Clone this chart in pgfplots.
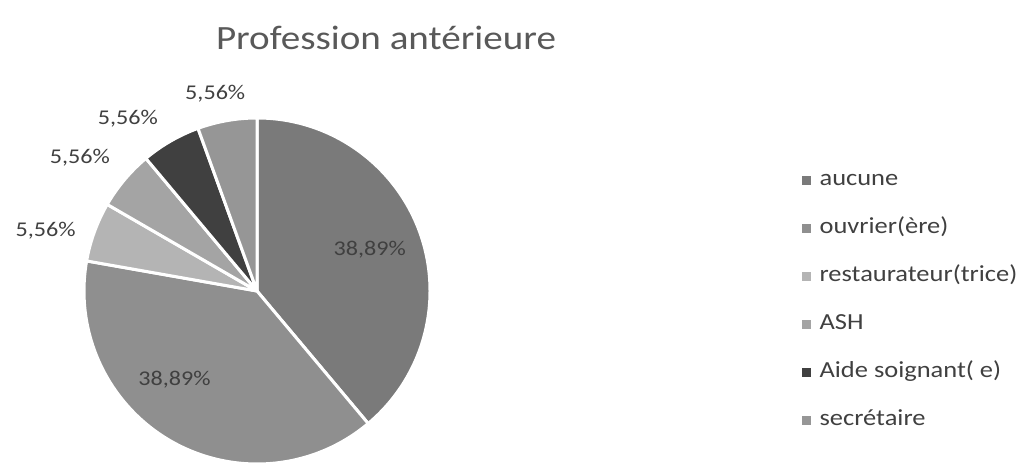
\documentclass[border=0pt]{standalone}
\usepackage{pgfplots}
\usepackage{pgfplotstable}
\pgfplotsset{compat=1.18}
\usepackage{fontspec}
\setmainfont{Carlito}[FakeStretch=1.15]
\definecolor{cA}{HTML}{7A7A7A}
\definecolor{cB}{HTML}{8F8F8F}
\definecolor{cC}{HTML}{B4B4B4}
\definecolor{cD}{HTML}{A4A4A4}
\definecolor{cE}{HTML}{404040}
\definecolor{cF}{HTML}{969696}
\definecolor{txt}{HTML}{404040}
\definecolor{ttl}{HTML}{595959}
\pgfplotstableread{
name value col ldist lshift
aucune 38.89 cA 120 0
ouvrier 38.89 cB 121 -13
restaurateur 5.56 cC 220 4
ASH 5.56 cD 222 3
aide 5.56 cE 215 7
secretaire 5.56 cF 202 2
}\piedata
\begin{document}
\begin{tikzpicture}
\begin{axis}[
  scale only axis, width=1030pt, height=473pt,
  xmin=0, xmax=1030, ymin=0, ymax=473,
  hide axis, clip=false,
  /pgf/number format/assume math mode=true,
  legend style={draw=none, fill=none, at={(axis cs:799,173)}, anchor=west,
    font=\fontsize{23}{27}\selectfont\color{txt},
    nodes={inner sep=0pt, text height=16pt, text depth=5pt},
    row sep=27pt, cells={anchor=west},
    /tikz/every odd column/.append style={column sep=9pt}},
]
\def\cum{90}
\pgfplotsforeachungrouped \i in {0,...,5}{%
  \pgfplotstablegetelem{\i}{value}\of\piedata \let\v\pgfplotsretval
  \pgfplotstablegetelem{\i}{col}\of\piedata \let\c\pgfplotsretval
  \pgfplotstablegetelem{\i}{ldist}\of\piedata \let\ld\pgfplotsretval
  \pgfplotstablegetelem{\i}{lshift}\of\piedata \let\ls\pgfplotsretval
  \pgfmathsetmacro\start{\cum}%
  \pgfmathsetmacro\stop{\cum-\v*3.6}%
  \pgfmathsetmacro\mid{(\start+\stop)/2+\ls}%
  \edef\temp{\noexpand\fill[\c, draw=white, line width=3pt, line join=round]
    (axis cs:257,182) -- ++(\start:173pt) arc[start angle=\start, end angle=\stop, radius=173pt] -- cycle;}%
  \temp
  \edef\temp{\noexpand\path (axis cs:257,182) ++(\mid:\ld pt) node[text=txt, font=\noexpand\fontsize{21}{24}\noexpand\selectfont]
    {\noexpand\pgfmathprintnumber[fixed, fixed zerofill, precision=2, use comma, assume math mode=true]{\v}\noexpand\%};}%
  \temp
  \global\let\cum\stop
}
\node[font=\fontsize{34}{40}\selectfont, text=ttl] at (axis cs:386,435) {Profession antérieure};
\addlegendimage{legend image code/.code={\fill[cA] (0pt,-4pt) rectangle (8pt,4pt);}}
\addlegendentry{aucune}
\addlegendimage{legend image code/.code={\fill[cB] (0pt,-4pt) rectangle (8pt,4pt);}}
\addlegendentry{ouvrier(ère)}
\addlegendimage{legend image code/.code={\fill[cC] (0pt,-4pt) rectangle (8pt,4pt);}}
\addlegendentry{restaurateur(trice)}
\addlegendimage{legend image code/.code={\fill[cD] (0pt,-4pt) rectangle (8pt,4pt);}}
\addlegendentry{ASH}
\addlegendimage{legend image code/.code={\fill[cE] (0pt,-4pt) rectangle (8pt,4pt);}}
\addlegendentry{Aide soignant( e)}
\addlegendimage{legend image code/.code={\fill[cF] (0pt,-4pt) rectangle (8pt,4pt);}}
\addlegendentry{secrétaire}
\end{axis}
\pgfresetboundingbox
\path (0,0) rectangle (1030pt,473pt);
\end{tikzpicture}
\end{document}
